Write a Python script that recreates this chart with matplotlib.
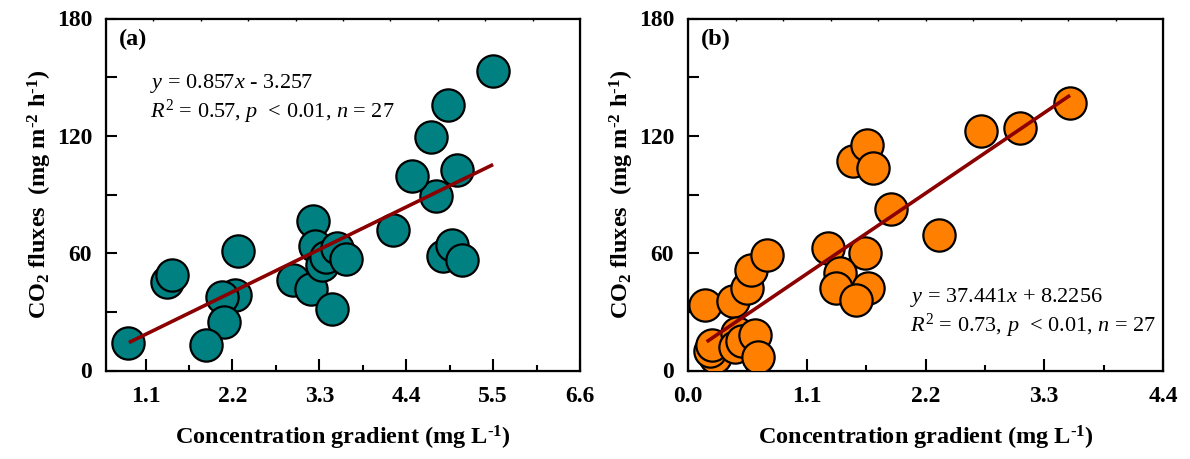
import matplotlib
matplotlib.use("Agg")
import matplotlib.pyplot as plt
import numpy as np

plt.rcParams['font.family'] = ['Liberation Serif', 'DejaVu Serif']
plt.rcParams['mathtext.fontset'] = 'custom'
plt.rcParams['mathtext.rm'] = 'Liberation Serif'
plt.rcParams['mathtext.it'] = 'Liberation Serif:italic'
plt.rcParams['mathtext.bf'] = 'Liberation Serif:bold'
plt.rcParams['mathtext.default'] = 'regular'

# ---- data: panel (a) ----
a_x = [0.876, 1.374, 1.437, 2.266, 2.237, 2.069, 2.098, 1.870, 2.966, 3.197,
       3.458, 3.226, 3.248, 3.330, 3.380, 3.520, 3.640, 4.237, 4.776, 4.869,
       4.974, 5.100, 5.500, 4.930, 4.710, 4.470, 5.040]
a_y = [13.9, 45.5, 49.0, 61.0, 38.7, 37.8, 25.0, 13.0, 46.4, 41.6,
       31.4, 76.7, 63.5, 54.0, 58.0, 62.7, 57.0, 72.0, 89.0, 58.4,
       64.4, 56.7, 153.2, 135.6, 119.6, 99.7, 102.5]
a_slope, a_intercept = 19.74, -3.257
a_fit_range = [0.89, 5.5]

# ---- data: panel (b) ----
b_x = [0.157, 0.421, 0.544, 0.584, 0.729, 0.250, 0.200, 0.219, 0.451, 0.435,
       0.500, 0.621, 0.652, 1.300, 1.641, 1.408, 1.371, 1.671, 1.556, 1.877,
       2.328, 1.532, 1.656, 1.711, 2.714, 3.075, 3.539]
b_y = [33.6, 35.3, 42.2, 51.5, 59.2, 7.0, 10.0, 13.1, 19.0, 12.2,
       15.0, 18.2, 7.0, 62.7, 60.1, 49.8, 42.2, 42.2, 36.2, 82.7,
       69.5, 107.0, 115.3, 103.7, 122.5, 124.2, 137.0]
b_slope, b_intercept = 37.441, 8.2256
b_fit_range = [0.173, 3.539]

y_ticks = [0, 60, 120, 180]
a_xticks = [1.1, 2.2, 3.3, 4.4, 5.5, 6.6]
b_xticks = [0.0, 1.1, 2.2, 3.3, 4.4]

HY = "\u2010"  # hyphen used in superscripts

W, H = 1190, 459
fig = plt.figure(figsize=(W / 100, H / 100), dpi=100)

def make_axes(left, right, top=18.5, bottom=370.5):
    return fig.add_axes([left / W, (H - bottom) / H, (right - left) / W, (bottom - top) / H])

ax1 = make_axes(106, 580)
ax2 = make_axes(688, 1163)

def style(ax, xlim, xticks, top_ticks):
    ax.set_xlim(*xlim)
    ax.set_ylim(0, 180)
    ax.set_xticks(xticks)
    ax.set_xticklabels([f"{t:.1f}" for t in xticks])
    ax.set_xticks([t + 0.55 for t in xticks[:-1]] + ([xticks[0] - 0.55] if xticks[0] - 0.55 > xlim[0] else []), minor=True)
    ax.set_yticks(y_ticks)
    ax.set_yticks([30, 90, 150], minor=True)
    for s in ax.spines.values():
        s.set_linewidth(1.6)
    ax.tick_params(axis='both', which='both', direction='in', width=1.5,
                   labelsize=17, top=False, right=False)
    ax.tick_params(axis='x', which='major', length=9, pad=11)
    ax.tick_params(axis='x', which='minor', length=4.5)
    ax.tick_params(axis='y', which='both', length=8, pad=10)
    for lab in ax.get_xticklabels() + ax.get_yticklabels():
        lab.set_fontweight('bold')
    axt = ax.twiny()
    axt.set_xlim(*xlim)
    axt.set_xticks(top_ticks)
    axt.tick_params(axis='x', direction='in', length=2.5, width=1.0, labeltop=False)
    axt.set_xticklabels([])
    ax.set_xlabel(f"Concentration gradient (mg L$^{{{HY}1}}$)", fontsize=17.5, fontweight='bold', labelpad=12)
    ax.set_ylabel(f"CO$_2$ fluxes  (mg m$^{{{HY}2}}$ h$^{{{HY}1}}$)", fontsize=17.5, fontweight='bold', labelpad=2)

style(ax1, (0.6, 6.6), a_xticks, [1.2, 1.8, 2.4, 3.0, 3.6, 4.2, 4.8, 5.4, 6.0])
style(ax2, (0.0, 4.4), b_xticks, [0.44, 0.88, 1.32, 1.76, 2.2, 2.64, 3.08, 3.52, 3.96])

teal = '#008080'
orange = '#FF8000'
line_c = '#8B0000'

ax1.scatter(a_x, a_y, s=540, c=teal, edgecolors='black', linewidths=1.6, zorder=3)
fx = np.array(a_fit_range)
ax1.plot(fx, a_slope * fx + a_intercept, color=line_c, lw=2.6, zorder=4, solid_capstyle='butt')

ax2.scatter(b_x, b_y, s=540, c=orange, edgecolors='black', linewidths=1.6, zorder=3)
fx = np.array(b_fit_range)
ax2.plot(fx, b_slope * fx + b_intercept, color=line_c, lw=2.6, zorder=4, solid_capstyle='butt')

ax1.text(0.028, 0.94, "(a)", transform=ax1.transAxes, fontsize=17.5, fontweight='bold', va='center')
ax2.text(0.028, 0.94, "(b)", transform=ax2.transAxes, fontsize=17.5, fontweight='bold', va='center')

def fig_text(px, py, s):
    fig.text(px / W, (H - py) / H, s, fontsize=16, va='baseline', ha='left')

fig_text(150, 88, r"$\mathit{y}$ = 0.857$\mathit{x}$ - 3.257")
fig_text(150, 118, r"$\mathit{R}^2$ = 0.57, $\mathit{p}$  < 0.01, $\mathit{n}$ = 27")
fig_text(910, 302, r"$\mathit{y}$ = 37.441$\mathit{x}$ + 8.2256")
fig_text(910, 332, r"$\mathit{R}^2$ = 0.73, $\mathit{p}$  < 0.01, $\mathit{n}$ = 27")

fig.savefig("out.png", dpi=100)
